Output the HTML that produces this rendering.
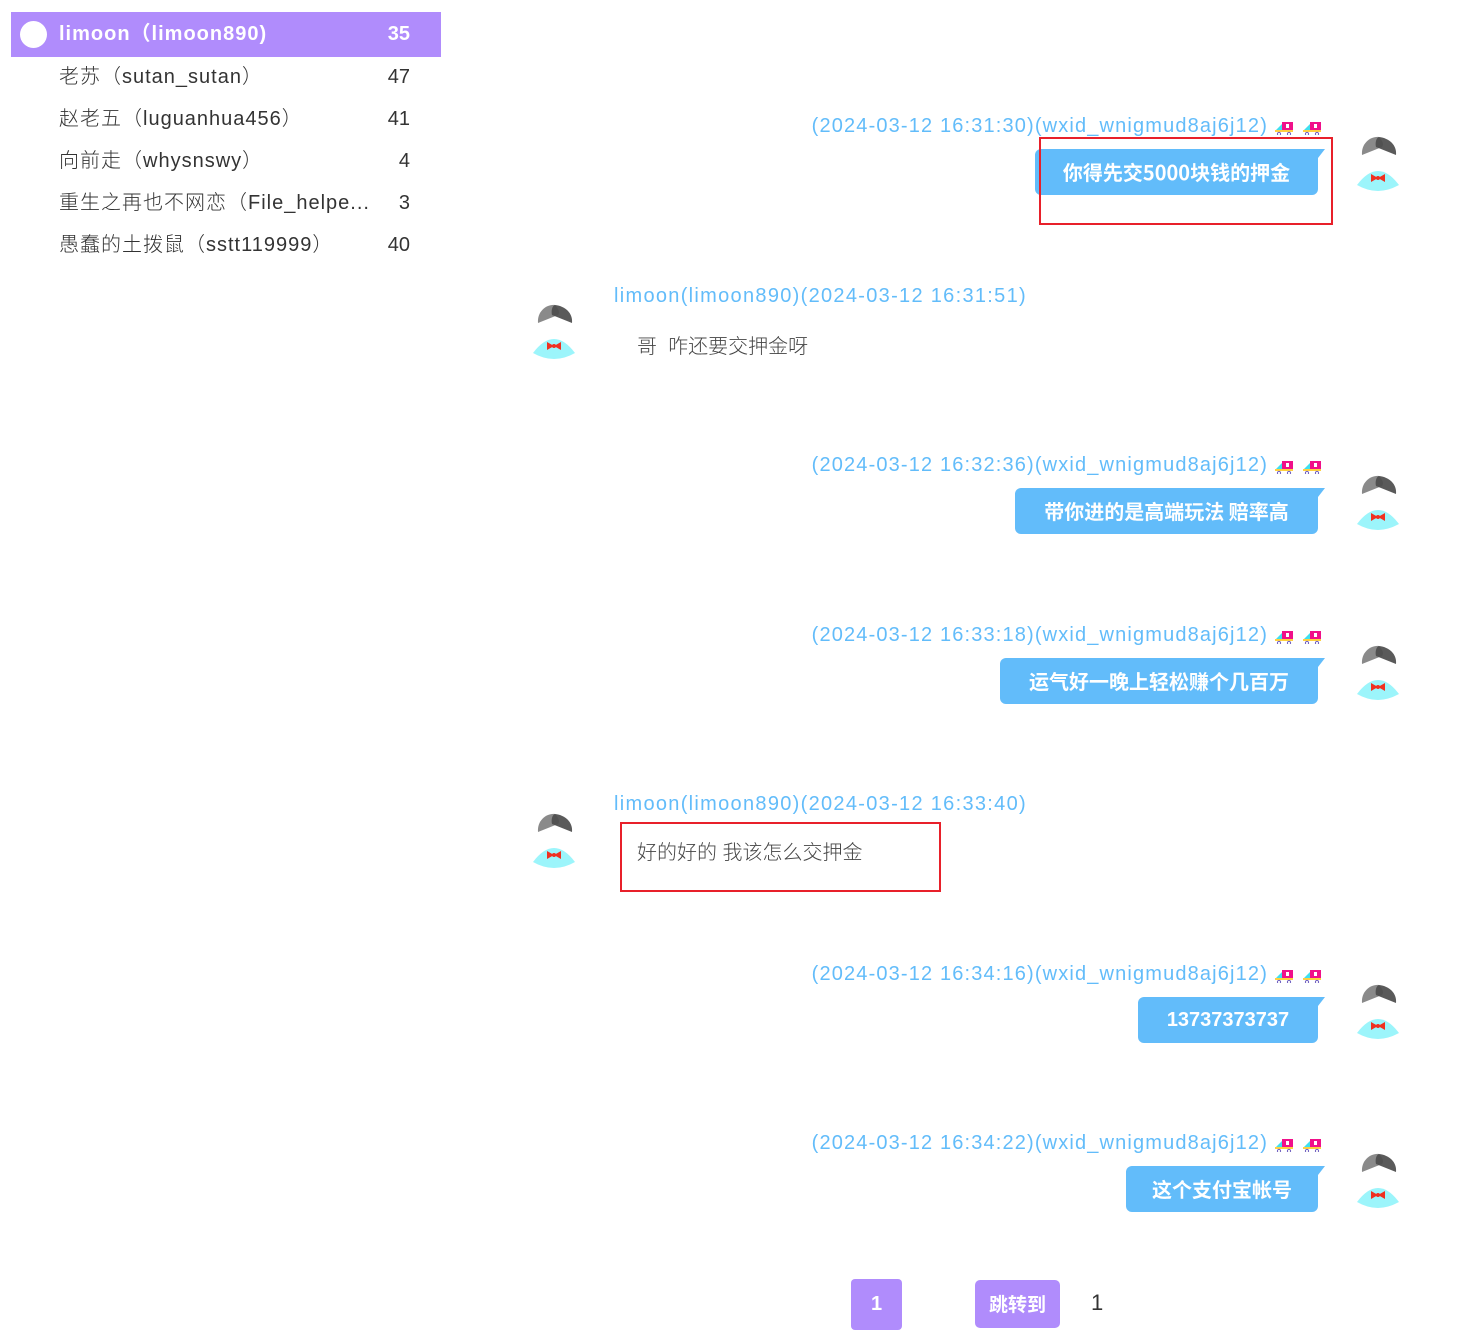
<!DOCTYPE html><html><head><meta charset="utf-8"><style>
body{margin:0;width:1472px;height:1333px;background:#fff;position:relative;overflow:hidden;font-family:"Liberation Sans","Noto Sans CJK SC",sans-serif}
.a{position:absolute;white-space:nowrap}
.row{position:absolute;left:11px;width:430px;height:42px;line-height:42px;font-size:20px;color:#333;font-weight:300}
.row .n{position:absolute;left:48px;letter-spacing:1px}
.row .c{position:absolute;right:31px}
.sel{background:#b08cfc;color:#fff;font-weight:bold;height:45px;line-height:45px}
.hd{position:absolute;font-size:20px;color:#62bcfa;font-weight:300;white-space:nowrap;line-height:24px;letter-spacing:1.15px}
.bb{position:absolute;height:46px;background:#62bcfa;border-radius:6px 0 6px 6px;color:#fff;font-weight:bold;font-size:20px;line-height:46px;text-align:center;font-family:"Noto Sans CJK SC","Liberation Sans",sans-serif}
.bb:after{content:"";position:absolute;right:-7px;top:0;border-top:9px solid #62bcfa;border-right:7px solid transparent}
.av{position:absolute;width:44px;height:60px}
.lt{position:absolute;font-size:20px;color:#444;font-weight:300;white-space:nowrap}
.ic{position:absolute;width:20px;height:14px}
.box{position:absolute;border:2px solid #e8202a}
</style></head><body>
<div class="row sel" style="top:12px"><span style="position:absolute;left:9px;top:9px;width:27px;height:27px;border-radius:50%;background:#fff"></span><span class="n">limoon（limoon890)</span><span class="c">35</span></div>
<div class="row" style="top:56px"><span class="n">老苏（sutan_sutan）</span><span class="c">47</span></div>
<div class="row" style="top:98px"><span class="n">赵老五（luguanhua456）</span><span class="c">41</span></div>
<div class="row" style="top:140px"><span class="n">向前走（whysnswy）</span><span class="c">4</span></div>
<div class="row" style="top:182px"><span class="n">重生之再也不网恋（File_helpe...</span><span class="c">3</span></div>
<div class="row" style="top:224px"><span class="n">愚蠢的土拨鼠（sstt119999）</span><span class="c">40</span></div>

<svg width="0" height="0" style="position:absolute"><defs>
<g id="av"><path d="M5 20 C4 8 14 1 22 2 C26 6 27 10 25 12 Z" fill="#8a8a8a"/><path d="M19 12 C18 8 19 3 22 2 C32 3 40 10 39 20 Z" fill="#4c4c4c" fill-opacity="0.92"/><path d="M0 50 Q21 22 42 50 Q21 62 0 50Z" fill="#9cf5fb"/><path d="M14 39 L21 43 L14 47Z M28 39 L21 43 L28 47Z" fill="#f03020"/><circle cx="21" cy="43" r="2" fill="#f03020"/></g>
<g id="ic"><rect x="8" y="1" width="11" height="8" fill="#f0108a"/><rect x="12" y="3" width="3" height="4" fill="#fff"/><path d="M2 9 L8 3 L8 9Z" fill="#40e0f0"/><rect x="1" y="9" width="18" height="2" fill="#ffd040"/><circle cx="5" cy="13" r="1.6" fill="none" stroke="#7060c0"/><circle cx="15" cy="13" r="1.6" fill="none" stroke="#7060c0"/></g>
</defs></svg>

<div class="hd" style="right:204px;top:114px">(2024-03-12 16:31:30)(wxid_wnigmud8aj6j12)</div>
<svg class="ic" style="left:1274px;top:121px"><use href="#ic"/></svg><svg class="ic" style="left:1302px;top:121px"><use href="#ic"/></svg>
<div class="bb" style="left:1035px;top:149px;width:283px">你得先交5000块钱的押金</div>
<svg class="av" style="left:1357px;top:135px"><use href="#av"/></svg>

<div class="hd" style="right:204px;top:453px">(2024-03-12 16:32:36)(wxid_wnigmud8aj6j12)</div>
<svg class="ic" style="left:1274px;top:460px"><use href="#ic"/></svg><svg class="ic" style="left:1302px;top:460px"><use href="#ic"/></svg>
<div class="bb" style="left:1015px;top:488px;width:303px">带你进的是高端玩法 赔率高</div>
<svg class="av" style="left:1357px;top:474px"><use href="#av"/></svg>

<div class="hd" style="right:204px;top:623px">(2024-03-12 16:33:18)(wxid_wnigmud8aj6j12)</div>
<svg class="ic" style="left:1274px;top:630px"><use href="#ic"/></svg><svg class="ic" style="left:1302px;top:630px"><use href="#ic"/></svg>
<div class="bb" style="left:1000px;top:658px;width:318px">运气好一晚上轻松赚个几百万</div>
<svg class="av" style="left:1357px;top:644px"><use href="#av"/></svg>

<div class="hd" style="right:204px;top:962px">(2024-03-12 16:34:16)(wxid_wnigmud8aj6j12)</div>
<svg class="ic" style="left:1274px;top:969px"><use href="#ic"/></svg><svg class="ic" style="left:1302px;top:969px"><use href="#ic"/></svg>
<div class="bb" style="left:1138px;top:997px;width:180px;font-family:'Liberation Sans',sans-serif">13737373737</div>
<svg class="av" style="left:1357px;top:983px"><use href="#av"/></svg>

<div class="hd" style="right:204px;top:1131px">(2024-03-12 16:34:22)(wxid_wnigmud8aj6j12)</div>
<svg class="ic" style="left:1274px;top:1138px"><use href="#ic"/></svg><svg class="ic" style="left:1302px;top:1138px"><use href="#ic"/></svg>
<div class="bb" style="left:1126px;top:1166px;width:192px">这个支付宝帐号</div>
<svg class="av" style="left:1357px;top:1152px"><use href="#av"/></svg>

<div class="hd" style="left:614px;top:284px;letter-spacing:1.3px">limoon(limoon890)(2024-03-12 16:31:51)</div>
<svg class="av" style="left:533px;top:303px"><use href="#av"/></svg>
<div class="lt" style="left:637px;top:330px">哥&nbsp; 咋还要交押金呀</div>

<div class="hd" style="left:614px;top:792px;letter-spacing:1.3px">limoon(limoon890)(2024-03-12 16:33:40)</div>
<svg class="av" style="left:533px;top:812px"><use href="#av"/></svg>
<div class="lt" style="left:637px;top:836px">好的好的 我该怎么交押金</div>

<div class="box" style="left:1039px;top:137px;width:290px;height:84px"></div>
<div class="box" style="left:620px;top:822px;width:317px;height:66px"></div>

<div class="a" style="left:851px;top:1279px;width:51px;height:51px;background:#b08cfc;border-radius:4px;color:#fff;font-weight:bold;font-size:20px;line-height:51px;text-align:center">1</div>
<div class="a" style="left:975px;top:1280px;width:85px;height:48px;background:#b08cfc;border-radius:5px;color:#fff;font-weight:bold;font-size:19px;line-height:48px;text-align:center;font-family:'Noto Sans CJK SC',sans-serif">跳转到</div>
<div class="a" style="left:1091px;top:1290px;font-size:22px;color:#333;font-weight:300">1</div>
</body></html>
